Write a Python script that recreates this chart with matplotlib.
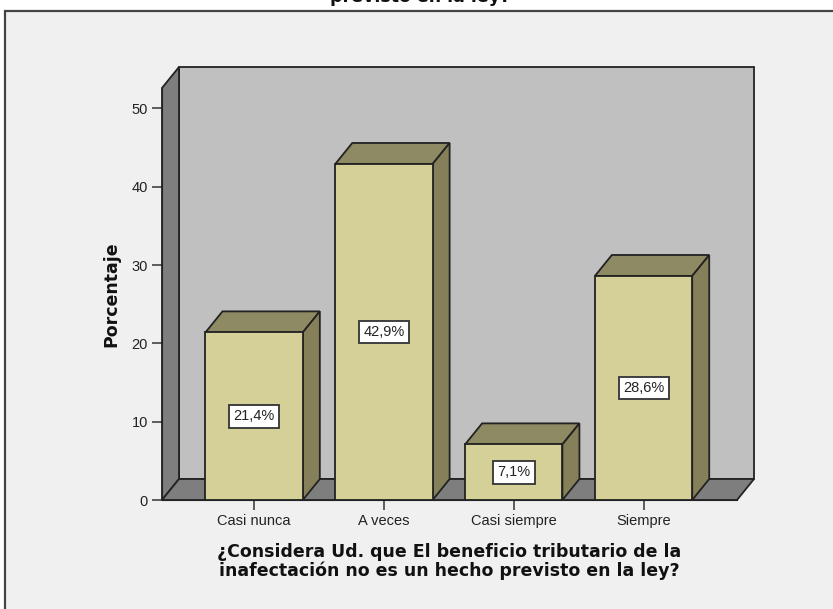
import matplotlib
matplotlib.use("Agg")
import matplotlib.pyplot as plt
from matplotlib.patches import Polygon, Rectangle

# datos
categorias = ["Casi nunca", "A veces", "Casi siempre", "Siempre"]
porcentajes = [21.4, 42.9, 7.1, 28.6]
etiquetas = ["21,4%", "42,9%", "7,1%", "28,6%"]
yticks = [0, 10, 20, 30, 40, 50]

titulo = "previsto en la ley?"
xlabel = "¿Considera Ud. que El beneficio tributario de la\ninafectación no es un hecho previsto en la ley?"
ylabel = "Porcentaje"

plt.rcParams["font.family"] = ["Liberation Sans", "DejaVu Sans"]

W, H = 833, 609
fig = plt.figure(figsize=(W / 100, H / 100), dpi=100)
fig.patch.set_facecolor("white")

# marco del grafico (se corta a la derecha y abajo)
fondo = fig.add_axes([0, 0, 1, 1], zorder=-5)
fondo.set_xlim(0, W)
fondo.set_ylim(H, 0)
fondo.axis("off")
fondo.add_patch(Rectangle((5, 11), W + 20, H + 20, facecolor="#f0f0f0",
                          edgecolor="#444444", lw=1.6))
# el titulo queda cortado por el borde superior, como en el original
fondo.text(420, 1.5, titulo, ha="center", va="baseline", family="DejaVu Sans",
           fontsize=12.5, fontweight="bold", color="#111111", clip_on=False)

# ejes: plano frontal
x_izq, x_der, y_base, y_top = 162, 737, 500, 88
ax = fig.add_axes([x_izq / W, 1 - y_base / H, (x_der - x_izq) / W, (y_base - y_top) / H])
ax.set_facecolor("none")
xmin, xmax = -0.71, 3.72
ymin, ymax = 0, 52.6
ax.set_xlim(xmin, xmax)
ax.set_ylim(ymin, ymax)

# desplazamiento de profundidad en unidades de datos
px_x = (x_der - x_izq) / (xmax - xmin)
px_y = (y_base - y_top) / (ymax - ymin)
dx = 17 / px_x
dy = 21 / px_y

edge = "#222222"
lw = 1.3

# pared de fondo, pared izquierda y suelo
ax.add_patch(Rectangle((xmin + dx, dy), xmax - xmin, ymax, facecolor="#c0c0c0",
                       edgecolor=edge, lw=lw, clip_on=False, zorder=1))
ax.add_patch(Polygon([(xmin, 0), (xmin + dx, dy), (xmin + dx, ymax + dy), (xmin, ymax)],
                     facecolor="#7e7e7e", edgecolor=edge, lw=lw, clip_on=False, zorder=2))
ax.add_patch(Polygon([(xmin, 0), (xmax, 0), (xmax + dx, dy), (xmin + dx, dy)],
                     facecolor="#7e7e7e", edgecolor=edge, lw=lw, clip_on=False, zorder=2))

# barras 3D
ancho = 0.75
for i, v in enumerate(porcentajes):
    x0 = i - ancho / 2
    x1 = i + ancho / 2
    ax.add_patch(Polygon([(x0, v), (x1, v), (x1 + dx, v + dy), (x0 + dx, v + dy)],
                         facecolor="#8e8a63", edgecolor=edge, lw=lw, clip_on=False, zorder=3))
    ax.add_patch(Polygon([(x1, 0), (x1 + dx, dy), (x1 + dx, v + dy), (x1, v)],
                         facecolor="#858059", edgecolor=edge, lw=lw, clip_on=False, zorder=3))
    ax.add_patch(Rectangle((x0, 0), ancho, v, facecolor="#d5cf98",
                           edgecolor=edge, lw=lw, clip_on=False, zorder=4))
    ax.text(i, v / 2, etiquetas[i], ha="center", va="center", fontsize=10.5,
            color="#222222", zorder=5,
            bbox=dict(boxstyle="square,pad=0.3", facecolor="white",
                      edgecolor="#333333", lw=1.3))

# ejes y etiquetas
for s in ["top", "right"]:
    ax.spines[s].set_visible(False)
ax.spines["left"].set_color(edge)
ax.spines["bottom"].set_color(edge)
ax.spines["left"].set_zorder(6)
ax.spines["bottom"].set_zorder(6)
ax.set_yticks(yticks)
ax.set_xticks(range(len(categorias)))
ax.set_xticklabels(categorias)
ax.tick_params(axis="both", direction="out", length=7, width=1.1, color="#333333",
               labelsize=10.5, labelcolor="#222222", pad=3)
ax.set_xlabel(xlabel, fontsize=12.5, fontweight="bold", color="#111111",
              family="DejaVu Sans", labelpad=11, linespacing=1.05)
ax.set_ylabel(ylabel, fontsize=12.5, fontweight="bold", color="#111111",
              family="DejaVu Sans", labelpad=8)

fig.savefig("out.png", dpi=100)
